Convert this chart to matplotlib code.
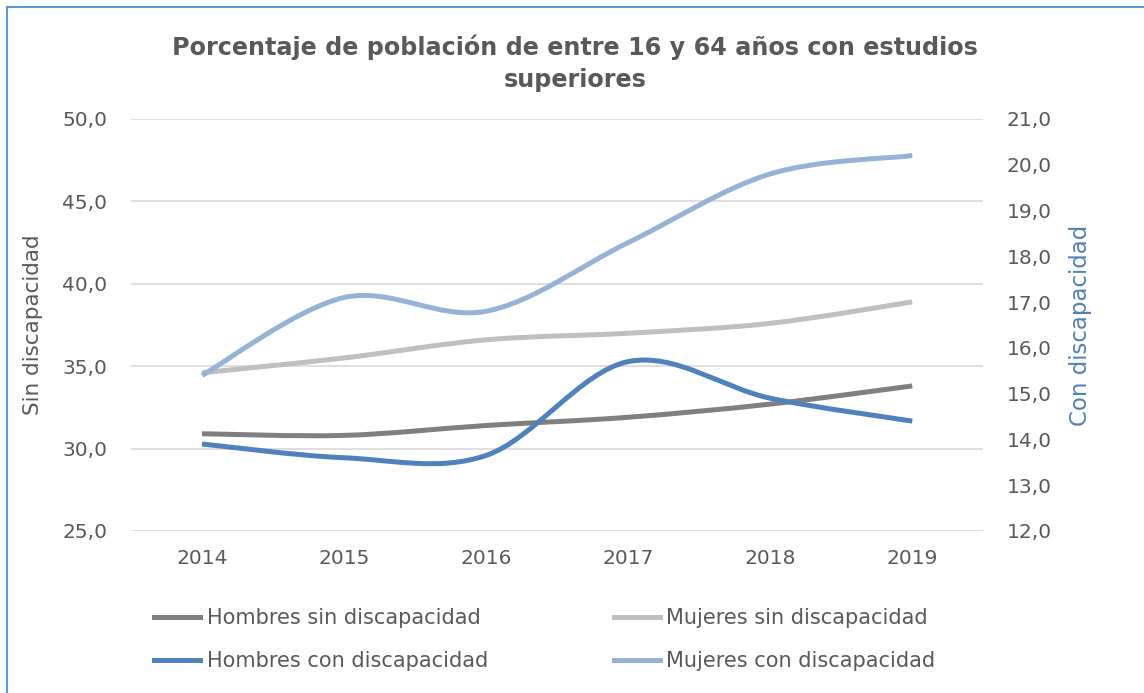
import matplotlib as mpl
import matplotlib.pyplot as plt
from matplotlib.lines import Line2D
from matplotlib.patches import PathPatch, Rectangle
from matplotlib.path import Path
from matplotlib.ticker import FuncFormatter, MultipleLocator

mpl.use("Agg")

plt.rcParams["font.family"] = ["DejaVu Sans"]

years = ["2014", "2015", "2016", "2017", "2018", "2019"]
hombres_sin = [30.9, 30.8, 31.4, 31.9, 32.7, 33.8]
mujeres_sin = [34.6, 35.5, 36.6, 37.0, 37.6, 38.9]
hombres_con = [13.9, 13.6, 13.65, 15.7, 14.9, 14.4]
mujeres_con = [15.4, 17.1, 16.8, 18.3, 19.8, 20.2]

TEXT = "#595959"
GRID = "#d9d9d9"
C_HS = "#7f7f7f"
C_MS = "#bfbfbf"
C_HC = "#4f81bd"
C_MC = "#95b3d7"
LW = 3.6


def smooth_path(ys):
    # bezier through every point, excel style smoothing
    xs = list(range(len(ys)))
    pts = list(zip(xs, ys))
    verts = [pts[0]]
    codes = [Path.MOVETO]
    n = len(pts)
    for i in range(n - 1):
        p0 = pts[i - 1] if i > 0 else pts[i]
        p1 = pts[i]
        p2 = pts[i + 1]
        p3 = pts[i + 2] if i + 2 < n else pts[i + 1]
        c1 = (p1[0] + (p2[0] - p0[0]) / 6, p1[1] + (p2[1] - p0[1]) / 6)
        c2 = (p2[0] - (p3[0] - p1[0]) / 6, p2[1] - (p3[1] - p1[1]) / 6)
        verts += [c1, c2, p2]
        codes += [Path.CURVE4] * 3
    return Path(verts, codes)


def comma(v, _):
    return f"{v:.1f}".replace(".", ",")


fig = plt.figure(figsize=(11.44, 6.93), dpi=100)
ax = fig.add_axes([0.1145, 0.2338, 0.745, 0.5945])
ax2 = ax.twinx()

for ys, col in [(hombres_sin, C_HS), (mujeres_sin, C_MS)]:
    ax.add_patch(PathPatch(smooth_path(ys), fill=False, edgecolor=col, lw=LW,
                           capstyle="butt", zorder=3))
for ys, col in [(hombres_con, C_HC), (mujeres_con, C_MC)]:
    ax2.add_patch(PathPatch(smooth_path(ys), fill=False, edgecolor=col, lw=LW,
                            capstyle="butt", zorder=3))

ax.set_xlim(-0.5, len(years) - 0.5)
ax.set_ylim(25, 50)
ax2.set_ylim(12, 21)
ax.yaxis.set_major_locator(MultipleLocator(5))
ax2.yaxis.set_major_locator(MultipleLocator(1))
ax.yaxis.set_major_formatter(FuncFormatter(comma))
ax2.yaxis.set_major_formatter(FuncFormatter(comma))
ax.set_xticks(range(len(years)))
ax.set_xticklabels(years)
ax.grid(axis="y", color=GRID, lw=1.2)
ax.set_axisbelow(True)

for a in (ax, ax2):
    for s in a.spines.values():
        s.set_visible(False)
    a.tick_params(length=0, labelsize=14.5, labelcolor=TEXT)
ax.tick_params(axis="y", pad=17)
ax.tick_params(axis="x", pad=13)
ax2.tick_params(axis="y", pad=17)

ax.set_ylabel("Sin discapacidad", fontsize=15.5, color=TEXT, labelpad=14)
ax2.set_ylabel("Con discapacidad", fontsize=16.5, color=C_HC, labelpad=12)

fig.text(0.503, 0.950, "Porcentaje de población de entre 16 y 64 años con estudios\nsuperiores",
         ha="center", va="top", fontsize=17.2, fontweight="bold", color=TEXT,
         linespacing=1.4)

handles = [Line2D([], [], color=C_HS, lw=LW), Line2D([], [], color=C_HC, lw=LW),
           Line2D([], [], color=C_MS, lw=LW), Line2D([], [], color=C_MC, lw=LW)]
labels = ["Hombres sin discapacidad", "Hombres con discapacidad",
          "Mujeres sin discapacidad", "Mujeres con discapacidad"]
leg = fig.legend(handles, labels, ncol=2, loc="upper left",
                 bbox_to_anchor=(0.135, 0.1227), bbox_transform=fig.transFigure,
                 frameon=False, fontsize=15, handlelength=2.2, handletextpad=0.3,
                 columnspacing=6.05, labelspacing=1.1, borderaxespad=0, borderpad=0)
for t in leg.get_texts():
    t.set_color(TEXT)

fig.patches.append(Rectangle((7 / 1144, -0.5), 2.0, 1.5 - 7 / 693, transform=fig.transFigure,
                             fill=False, edgecolor="#5b9bd5", lw=1.5))

fig.savefig("out.png", dpi=100)
